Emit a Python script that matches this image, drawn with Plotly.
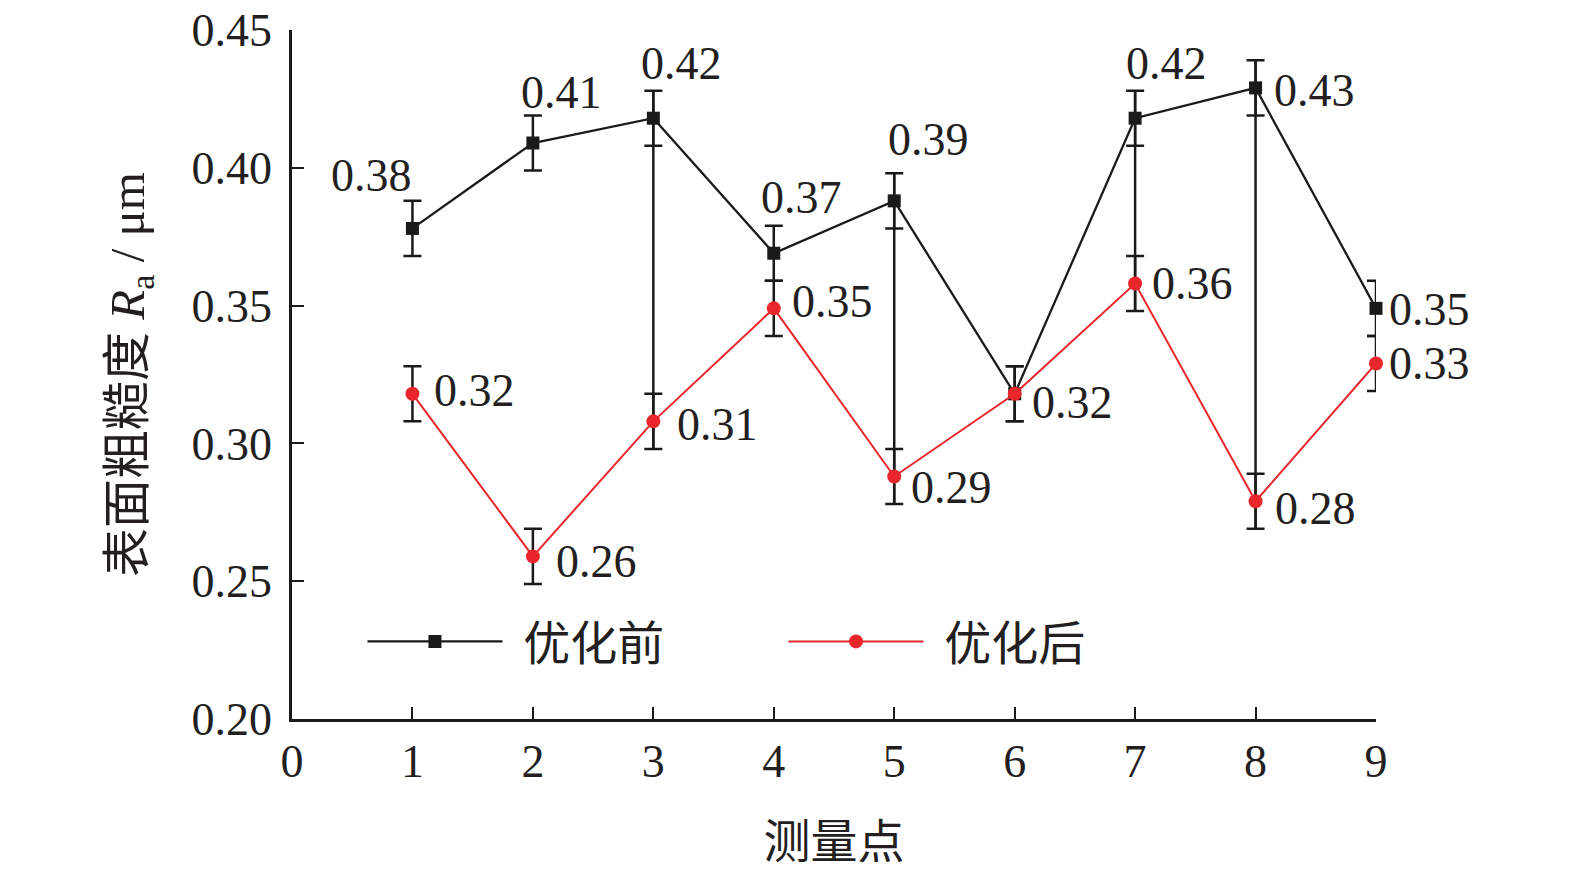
import plotly.graph_objects as go

points = [1, 2, 3, 4, 5, 6, 7, 8, 9]
before = [0.378, 0.409, 0.418, 0.369, 0.388, 0.318, 0.418, 0.429, 0.349]
after = [0.318, 0.259, 0.308, 0.349, 0.288, 0.318, 0.358, 0.279, 0.329]
before_labels = ["0.38", "0.41", "0.42", "0.37", "0.39", "0.32", "0.42", "0.43", "0.35"]
after_labels = ["0.32", "0.26", "0.31", "0.35", "0.29", "0.32", "0.36", "0.28", "0.33"]
before_err = [0.01] * 9
after_err = [0.01] * 9
linked_points = [3, 5, 7, 8]
x_ticks = [0, 1, 2, 3, 4, 5, 6, 7, 8, 9]
y_ticks = [0.20, 0.25, 0.30, 0.35, 0.40, 0.45]

BLACK = "#1a1a1a"
RED = "#e8262b"
TXT = "#231f20"
SERIF = "Liberation Serif, Times New Roman, Noto Sans CJK SC"
FS = 46

fig = go.Figure()

# connecting vertical lines between the two series' error bars
cx, cy = [], []
for p in linked_points:
    i = points.index(p)
    cx += [p, p, None]
    cy += [before[i] + before_err[i], after[i] - after_err[i], None]
fig.add_trace(go.Scatter(x=cx, y=cy, mode="lines", line=dict(color=BLACK, width=2.5),
                         showlegend=False, hoverinfo="skip", cliponaxis=False))

fig.add_trace(go.Scatter(
    x=points, y=before, mode="lines+markers", name="&nbsp;\u200a优化前",
    line=dict(color=BLACK, width=2.3),
    marker=dict(symbol="square", size=13, color=BLACK),
    error_y=dict(type="data", array=before_err, color=BLACK, thickness=2.5, width=9),
    cliponaxis=False,
))
fig.add_trace(go.Scatter(
    x=points, y=after, mode="lines+markers", name="&nbsp;\u200a优化后",
    line=dict(color=RED, width=2),
    marker=dict(symbol="circle", size=14, color=RED),
    error_y=dict(type="data", array=after_err, color=BLACK, thickness=2.5, width=9),
    cliponaxis=False,
))

# label offsets (px)
b_off = [(-41, 53, "center"), (29, 51, "center"), (28, 55, "center"), (28, 56, "center"),
         (34, 61, "center"), None, (31, 55, "center"), (16, -3, "left"), (11, -1, "left")]
a_off = [(20, 3), (21, -5), (22, -3), (16, 7), (15, -11), (15, -9), (15, 0), (17, -7), (11, 0)]

ann = []
for i, p in enumerate(points):
    o = b_off[i]
    if o is not None:
        ann.append(dict(x=p, y=before[i], xref="x", yref="y", text=before_labels[i],
                        showarrow=False, xanchor=o[2], yanchor="middle",
                        xshift=o[0], yshift=o[1], font=dict(family=SERIF, size=FS, color=TXT)))
    o = a_off[i]
    ann.append(dict(x=p, y=after[i], xref="x", yref="y", text=after_labels[i],
                    showarrow=False, xanchor="left", yanchor="middle",
                    xshift=o[0], yshift=o[1], font=dict(family=SERIF, size=FS, color=TXT)))

fig.update_layout(
    width=1575, height=876,
    margin=dict(l=292, r=199, t=30, b=157),
    paper_bgcolor="white", plot_bgcolor="white",
    font=dict(family=SERIF, size=FS, color=TXT),
    annotations=ann,
    showlegend=True,
    legend=dict(orientation="h", x=0.065, y=0.112, xanchor="left", yanchor="middle",
                itemwidth=135, entrywidth=271, font=dict(family=SERIF, size=47, color=TXT),
                bgcolor="rgba(0,0,0,0)", tracegroupgap=0, itemsizing="trace"),
    xaxis=dict(range=[0, 9], tickvals=x_ticks, ticktext=[str(v) for v in x_ticks],
               showgrid=False, zeroline=False, showline=True, linecolor=BLACK, linewidth=2.5,
               ticks="inside", ticklen=12, tickwidth=2, tickcolor=BLACK, automargin=False,
               ticklabeloverflow="allow",
               tickfont=dict(family=SERIF, size=FS, color=TXT), ticklabelstandoff=0,
               title=dict(text="测量点", font=dict(family=SERIF, size=47, color=TXT), standoff=40)),
    yaxis=dict(range=[0.2, 0.45], tickvals=y_ticks, ticktext=[f"{v:.2f}" for v in y_ticks],
               showgrid=False, zeroline=False, showline=True, linecolor=BLACK, linewidth=2.5,
               ticks="inside", ticklen=12, tickwidth=2, tickcolor=BLACK, automargin=False,
               ticklabeloverflow="allow",
               tickfont=dict(family=SERIF, size=FS, color=TXT), ticklabelstandoff=8,
               title=dict(text="表面粗糙度 <i>R</i><sub>a</sub> / μm",
                          font=dict(family=SERIF, size=49, color=TXT), standoff=32)),
)

fig.write_html("out.html", config={"displayModeBar": False},
               post_script="document.body.style.margin='0';document.body.style.overflow='hidden';")
